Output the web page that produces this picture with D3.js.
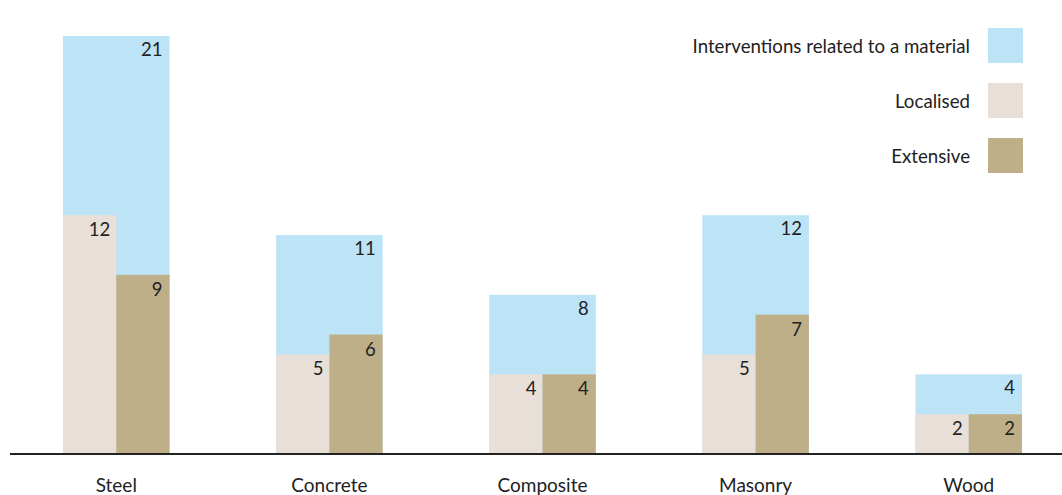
<!DOCTYPE html>
<html>
<head>
<meta charset="utf-8">
<script src="https://cdn.jsdelivr.net/npm/d3@7"></script>
<style>
  html, body { margin: 0; padding: 0; background: #fff; }
  svg { display: block; }
  text { font-family: Lato, "Open Sans", sans-serif; fill: #222; }
</style>
</head>
<body>
<svg id="chart" width="1062" height="495"></svg>
<script>
const categories = ["Steel", "Concrete", "Composite", "Masonry", "Wood"];
const totalValues = [21, 11, 8, 12, 4];
const localisedValues = [12, 5, 4, 5, 2];
const extensiveValues = [9, 6, 4, 7, 2];
const legendLabels = ["Interventions related to a material", "Localised", "Extensive"];
const colors = { total: "#bde3f7", localised: "#e8e0d8", extensive: "#bfaf88" };

const svg = d3.select("#chart");
const baseY = 454;

const x = d3.scaleBand().domain(categories).range([63, 1022]).paddingInner(0.5).paddingOuter(0);
const y = d3.scaleLinear().domain([0, 21]).range([baseY, 36]);

const data = categories.map((c, i) => ({
  cat: c, total: totalValues[i], loc: localisedValues[i], ext: extensiveValues[i]
}));

const bw = x.bandwidth();
const half = bw / 2;

svg.selectAll("rect.total").data(data).join("rect")
  .attr("class", "total")
  .attr("x", d => x(d.cat)).attr("width", bw)
  .attr("y", d => y(d.total)).attr("height", d => baseY - y(d.total))
  .attr("fill", colors.total);

svg.selectAll("rect.loc").data(data).join("rect")
  .attr("class", "loc")
  .attr("x", d => x(d.cat)).attr("width", half)
  .attr("y", d => y(d.loc)).attr("height", d => baseY - y(d.loc))
  .attr("fill", colors.localised);

svg.selectAll("rect.ext").data(data).join("rect")
  .attr("class", "ext")
  .attr("x", d => x(d.cat) + half).attr("width", half)
  .attr("y", d => y(d.ext)).attr("height", d => baseY - y(d.ext))
  .attr("fill", colors.extensive);

const labelFont = 18.5;
svg.selectAll("text.vt").data(data).join("text")
  .attr("class", "vt")
  .attr("x", d => x(d.cat) + bw - 7)
  .attr("y", d => y(d.total) + 20)
  .attr("text-anchor", "end").attr("font-size", labelFont)
  .text(d => d.total);

svg.selectAll("text.vl").data(data).join("text")
  .attr("class", "vl")
  .attr("x", d => x(d.cat) + half - 6)
  .attr("y", d => y(d.loc) + 21)
  .attr("text-anchor", "end").attr("font-size", labelFont)
  .text(d => d.loc);

svg.selectAll("text.ve").data(data).join("text")
  .attr("class", "ve")
  .attr("x", d => x(d.cat) + bw - 7)
  .attr("y", d => y(d.ext) + 21)
  .attr("text-anchor", "end").attr("font-size", labelFont)
  .text(d => d.ext);

const axis = d3.axisBottom(x).tickSize(0).tickPadding(25);
const gAxis = svg.append("g").attr("transform", `translate(0,${baseY})`).call(axis);
gAxis.select(".domain").remove();
gAxis.selectAll("text").attr("font-size", 19).style("font-family", "Lato, 'Open Sans', sans-serif").attr("fill", "#222");
svg.append("line").attr("x1", 10).attr("x2", 1062).attr("y1", baseY).attr("y2", baseY)
  .attr("stroke", "#222").attr("stroke-width", 2);

const legendColors = [colors.total, colors.localised, colors.extensive];
const legendY = [28, 83, 138];
const lg = svg.append("g");
legendLabels.forEach((lab, i) => {
  lg.append("rect").attr("x", 988).attr("y", legendY[i]).attr("width", 35).attr("height", 35)
    .attr("fill", legendColors[i]);
  lg.append("text").attr("x", 970).attr("y", legendY[i] + 25)
    .attr("text-anchor", "end").attr("font-size", 18.7).text(lab);
});
</script>
</body>
</html>
